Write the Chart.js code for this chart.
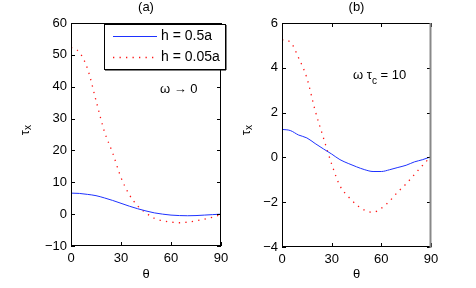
<!DOCTYPE html>
<html>
<head>
<meta charset="utf-8">
<script src="https://cdn.jsdelivr.net/npm/chart.js@4/dist/chart.umd.min.js"></script>
<style>
  html, body { margin: 0; padding: 0; background: #fff; }
  #wrap { position: relative; width: 476px; height: 288px; }
  canvas { position: absolute; top: 0; }
</style>
</head>
<body>
<div id="wrap">
  <canvas id="ca" width="238" height="288" style="left:0"></canvas>
  <canvas id="cb" width="238" height="288" style="left:238px"></canvas>
</div>
<script>
const THETA = [0, 5, 10, 15, 20, 25, 30, 35, 40, 45, 50, 55, 60, 65, 70, 75, 80, 85, 90];
const X_TICKS = [0, 30, 60, 90];

// (a) omega -> 0
const BLUE_A = [6.6, 6.5, 6.2, 5.8, 5.1, 4.3, 3.4, 2.5, 1.7, 1.0, 0.4, 0.0, -0.3, -0.45, -0.5, -0.45, -0.3, -0.15, 0];
const RED_A = [52.3, 50.8, 45.5, 35.7, 26, 19.2, 11.5, 6.1, 2.6, 0.4, -1.3, -2.1, -2.5, -2.7, -2.5, -2.1, -1.6, -0.95, -0.1];
const Y_TICKS_A = [-10, 0, 10, 20, 30, 40, 50, 60];

// (b) omega tau_c = 10
const BLUE_B = [1.25, 1.2, 1.0, 0.87, 0.62, 0.38, 0.15, -0.1, -0.27, -0.42, -0.55, -0.63, -0.63, -0.55, -0.45, -0.35, -0.2, -0.1, 0.03];
const RED_B = [5.25, 5.15, 4.45, 3.55, 2.1, 0.88, -0.3, -1.27, -1.75, -2.11, -2.36, -2.45, -2.27, -1.95, -1.54, -1.18, -0.76, -0.35, 0.05];
const Y_TICKS_B = [-4, -2, 0, 2, 4, 6];

const LABELS = ['h = 0.5a', 'h = 0.05a'];

const FONT = "'Liberation Sans', Arial, sans-serif";
const BLUE = 'rgb(30,50,255)';
const RED = 'rgb(255,20,20)';

const pts = (ys) => THETA.map((t, i) => ({ x: t, y: ys[i] }));
const minus = (v) => String(v).replace('-', '\u2212');

// axes box, inward ticks and the text around each panel
const panelPlugin = {
  id: 'panel',
  afterDraw(chart, args, o) {
    const { ctx, chartArea: a, scales: { x, y } } = chart;
    ctx.save();
    ctx.lineWidth = 1;
    ctx.strokeStyle = '#000';
    ctx.beginPath();
    for (const t of x.ticks) {
      const px = Math.round(x.getPixelForValue(t.value)) + 0.5;
      ctx.moveTo(px, a.bottom); ctx.lineTo(px, a.bottom - 4);
      ctx.moveTo(px, a.top); ctx.lineTo(px, a.top + 4);
    }
    for (const t of y.ticks) {
      const py = Math.round(y.getPixelForValue(t.value)) + 0.5;
      ctx.moveTo(a.left, py); ctx.lineTo(a.left + 4, py);
      ctx.moveTo(a.right, py); ctx.lineTo(a.right - 4, py);
    }
    ctx.stroke();
    ctx.strokeRect(a.left + 0.5, a.top + 0.5, a.width - 1, a.height - 1);
    if (o.grayRight) {
      ctx.strokeStyle = '#888';
      ctx.lineWidth = 2;
      ctx.beginPath();
      ctx.moveTo(a.right - 0.5, a.top); ctx.lineTo(a.right - 0.5, a.bottom + 1);
      ctx.stroke();
    }

    ctx.fillStyle = '#000';
    ctx.textBaseline = 'middle';
    ctx.textAlign = 'center';
    ctx.font = `13px ${FONT}`;
    const cx = (a.left + a.right) / 2;
    ctx.fillText(o.title, cx, 7);
    ctx.fillText('\u03b8', cx, 274);

    // rotated tau_x
    ctx.save();
    ctx.translate(o.ylabX, 130);
    ctx.rotate(-Math.PI / 2);
    ctx.textAlign = 'left';
    ctx.font = `13px ${FONT}`;
    const wt = ctx.measureText('\u03c4').width;
    ctx.fillText('\u03c4', -wt, 0);
    ctx.font = `10px ${FONT}`;
    ctx.fillText('x', 0, 3);
    ctx.restore();

    // annotation
    ctx.textAlign = 'left';
    let ax = o.note.x;
    for (const part of o.note.parts) {
      ctx.font = part.sub ? `10px ${FONT}` : `13px ${FONT}`;
      ctx.fillText(part.t, ax, o.note.y + (part.sub ? 6 : 0));
      ax += ctx.measureText(part.t).width;
    }

    if (o.legend) {
      const L = o.legend;
      ctx.fillStyle = '#fff';
      ctx.fillRect(L.x, L.y, L.w, L.h);
      ctx.strokeStyle = '#000';
      ctx.lineWidth = 1;
      ctx.strokeRect(L.x + 0.5, L.y + 0.5, L.w, L.h);
      ctx.beginPath();
      ctx.moveTo(L.x + 1, L.y + L.h + 1); ctx.lineTo(L.x + L.w + 1, L.y + L.h + 1);
      ctx.lineTo(L.x + L.w + 1, L.y + 1);
      ctx.stroke();
      chart.data.datasets.forEach((ds, i) => {
        const ly = L.y + 12.5 + i * 21;
        ctx.strokeStyle = ds.borderColor;
        ctx.lineWidth = ds.borderWidth;
        ctx.setLineDash(ds.borderDash || []);
        ctx.beginPath();
        ctx.moveTo(L.x + 9, ly); ctx.lineTo(L.x + 53, ly);
        ctx.stroke();
        ctx.setLineDash([]);
        ctx.fillStyle = '#000';
        ctx.font = `14px ${FONT}`;
        ctx.fillText(ds.label, L.x + 57, ly);
      });
    }
    ctx.restore();
  }
};

function makePanel(id, blue, red, yTicks, yWidth, padRight, xHeight, panelOpts) {
  const yMin = yTicks[0], yMax = yTicks[yTicks.length - 1];
  const yStep = yTicks[1] - yTicks[0];
  return new Chart(document.getElementById(id), {
    type: 'line',
    data: {
      datasets: [
        { label: LABELS[0], data: pts(blue), borderColor: BLUE, borderWidth: 1, pointRadius: 0, cubicInterpolationMode: 'monotone' },
        { label: LABELS[1], data: pts(red), borderColor: RED, borderWidth: 1.3, borderDash: [1.3, 5.2], pointRadius: 0, cubicInterpolationMode: 'monotone' }
      ]
    },
    options: {
      responsive: false,
      animation: false,
      events: [],
      layout: { padding: { top: 23, right: padRight, left: 0, bottom: 0 } },
      plugins: { legend: { display: false }, tooltip: { enabled: false }, panel: panelOpts },
      scales: {
        x: {
          type: 'linear', min: 0, max: 90,
          afterBuildTicks: (s) => { s.ticks = X_TICKS.map((v) => ({ value: v })); },
          afterFit: (s) => { s.height = xHeight; },
          grid: { display: false, drawTicks: false },
          border: { display: false },
          ticks: { color: '#000', font: { family: FONT, size: 13 }, padding: 5, maxRotation: 0, callback: minus }
        },
        y: {
          type: 'linear', min: yMin, max: yMax,
          ticks: { stepSize: yStep, color: '#000', font: { family: FONT, size: 13 }, padding: 4, callback: minus },
          afterFit: (s) => { s.width = yWidth; },
          grid: { display: false, drawTicks: false },
          border: { display: false }
        }
      }
    },
    plugins: [panelPlugin]
  });
}

makePanel('ca', BLUE_A, RED_A, Y_TICKS_A, 71, 17, 42, {
  title: '(a)', ylabX: 25,
  note: { x: 160, y: 89, parts: [{ t: '\u03c9 \u2192 0' }] },
  legend: { x: 104, y: 24, w: 121, h: 45 }
});

makePanel('cb', BLUE_B, RED_B, Y_TICKS_B, 44, 45, 41, {
  title: '(b)', ylabX: 8, grayRight: true,
  note: { x: 115, y: 75, parts: [{ t: '\u03c9 \u03c4' }, { t: 'c', sub: true }, { t: ' = 10' }] }
});
</script>
</body>
</html>
